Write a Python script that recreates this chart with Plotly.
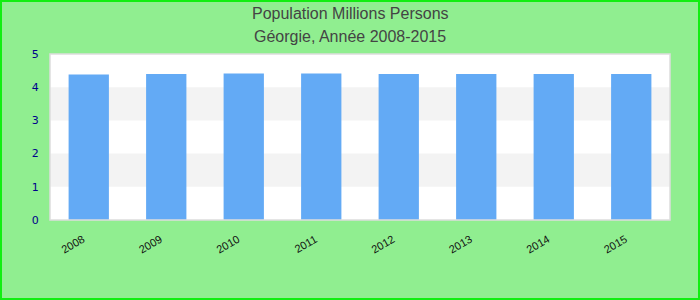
import plotly.graph_objects as go

years = ["2008", "2009", "2010", "2011", "2012", "2013", "2014", "2015"]
population = [4.38, 4.40, 4.41, 4.41, 4.40, 4.40, 4.40, 4.40]
y_ticks = [0, 1, 2, 3, 4, 5]
title_lines = ["Population Millions Persons", "Géorgie, Année 2008-2015"]

W, H = 700, 300
ml, mr, mt, mb = 50, 30, 54, 80
pw, ph = W - ml - mr, H - mt - mb

fig = go.Figure()
fig.add_trace(go.Bar(x=years, y=population, marker=dict(color="#63aaf5", line=dict(width=0)),
                     width=0.52, hoverinfo="x+y"))

shapes = []
for lo in [1, 3]:
    shapes.append(dict(type="rect", xref="paper", yref="y", x0=0, x1=1, y0=lo, y1=lo + 1,
                       fillcolor="#f3f3f3", line=dict(width=0), layer="below"))
shapes.append(dict(type="rect", xref="paper", yref="paper", x0=0, x1=1, y0=0, y1=1,
                   line=dict(color="#dddddd", width=1.5), layer="above"))
shapes.append(dict(type="rect", xref="paper", yref="paper",
                   x0=-ml / pw + 1 / pw, x1=1 + mr / pw - 1 / pw,
                   y0=-mb / ph + 1 / ph, y1=1 + mt / ph - 1 / ph,
                   line=dict(color="#11ee11", width=2), layer="above"))

annotations = []
for i, line in enumerate(title_lines):
    yc = 13 + i * 23
    annotations.append(dict(text=line, xref="paper", yref="paper", x=0.5 - (ml - mr) / 2 / pw,
                            y=1 + (mt - yc) / ph, xanchor="center", yanchor="middle",
                            showarrow=False,
                            font=dict(family="Liberation Sans, Arial", size=16, color="#444444")))

fig.update_layout(
    width=W, height=H,
    margin=dict(l=ml, r=mr, t=mt, b=mb),
    paper_bgcolor="#90ee90",
    plot_bgcolor="#ffffff",
    showlegend=False,
    bargap=0.48,
    annotations=annotations,
    xaxis=dict(type="category", tickangle=-30, showgrid=False, zeroline=False,
               ticks="outside", ticklen=8, tickcolor="rgba(0,0,0,0)",
               ticklabelshift=-6,
               tickfont=dict(family="Liberation Sans, Arial", size=11, color="#111111"),
               showline=False),
    yaxis=dict(range=[0, 5], tickvals=y_ticks, showgrid=False, zeroline=False,
               ticks="outside", ticklen=8, tickcolor="rgba(0,0,0,0)",
               tickfont=dict(family="DejaVu Sans", size=11, color="#00008b")),
    shapes=shapes,
)

fig.write_html("out.html")
